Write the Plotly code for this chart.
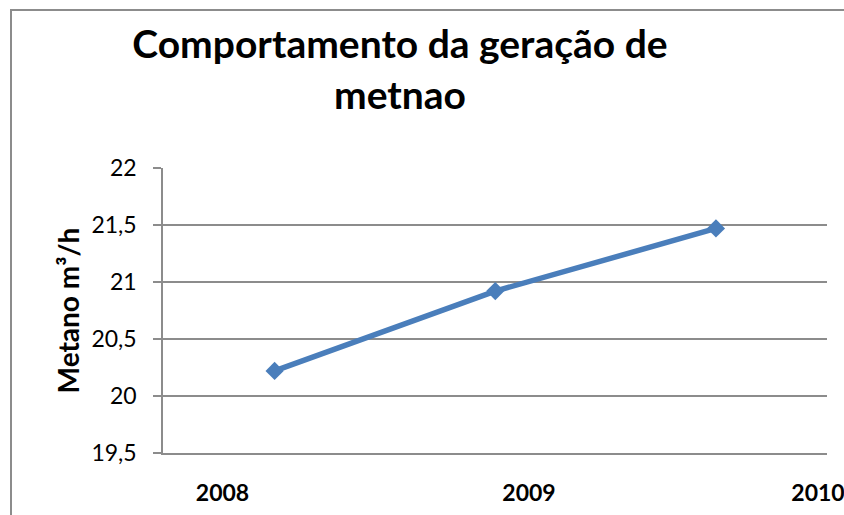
import plotly.graph_objects as go

# Data
years = [2008, 2009, 2010]
year_labels = ["2008", "2009", "2010"]
point_x = [2008.17, 2008.89, 2009.61]
metano = [20.22, 20.92, 21.47]
y_ticks = [19.5, 20, 20.5, 21, 21.5, 22]
y_tick_labels = ["19,5", "20", "20,5", "21", "21,5", "22"]

W, H = 844, 515
FONT = "Lato"
BLUE = "#4a7ebb"
GRID = "#8c8c8c"

# pixel geometry of the plot area
px_left, px_right, px_top, px_bottom = 163, 827, 168, 453
px_2008, px_per_year = 222.5, 306.5
x_min = 2008 + (px_left - px_2008) / px_per_year
x_max = 2008 + (px_right - px_2008) / px_per_year
# keep the last label inside the chart (as the source chart does)
half_label = 26 / px_per_year
edge = 2008 + (W - px_2008) / px_per_year
tick_pos = [min(y, edge - half_label) for y in years]

fig = go.Figure()
fig.add_trace(go.Scatter(
    x=point_x, y=metano, mode="lines+markers",
    line=dict(color=BLUE, width=5.5),
    marker=dict(symbol="diamond", size=14, color=BLUE, line=dict(color=BLUE, width=0)),
    showlegend=False, hoverinfo="skip",
))

fig.update_layout(
    width=W, height=H,
    margin=dict(l=0, r=0, t=0, b=0, pad=0, autoexpand=False),
    paper_bgcolor="white", plot_bgcolor="white",
    font=dict(family=FONT, color="black"),
    title=dict(
        text="Comportamento da geração de<br>metnao",
        font=dict(family=FONT, size=39, color="black", weight="bold"),
        x=400 / W, xanchor="center",
        y=1 - 58 / H, yanchor="middle",
    ),
    xaxis=dict(
        domain=[px_left / W, px_right / W],
        range=[x_min, x_max], automargin=False,
        tickmode="array", tickvals=tick_pos, ticktext=year_labels,
        tickfont=dict(family=FONT, size=23, color="black", weight="bold"),
        ticks="", showgrid=False, zeroline=False,
        showline=True, linecolor=GRID, linewidth=1.5,
        ticklabelstandoff=19, ticklabeloverflow="allow",
    ),
    yaxis=dict(
        domain=[1 - px_bottom / H, 1 - px_top / H],
        range=[19.5, 22], automargin=False,
        tickmode="array", tickvals=y_ticks, ticktext=y_tick_labels,
        tickfont=dict(family=FONT, size=23, color="black"),
        ticks="outside", ticklen=8, tickcolor=GRID, tickwidth=1.5,
        showgrid=True, gridcolor=GRID, gridwidth=1.5,
        zeroline=False, showline=True, linecolor=GRID, linewidth=1.5,
        ticklabelstandoff=12,
        title=dict(text="Metano m³/h", font=dict(family=FONT, size=28, color="black", weight="bold"), standoff=4),
    ),
    shapes=[dict(type="rect", xref="paper", yref="paper",
                 x0=11 / W, x1=1.05, y0=-0.05, y1=1 - 10 / H,
                 line=dict(color=GRID, width=2), fillcolor="rgba(0,0,0,0)", layer="below")],
)

fig.write_html("out.html", config={"displayModeBar": False},
               post_script="document.body.style.margin='0';")
